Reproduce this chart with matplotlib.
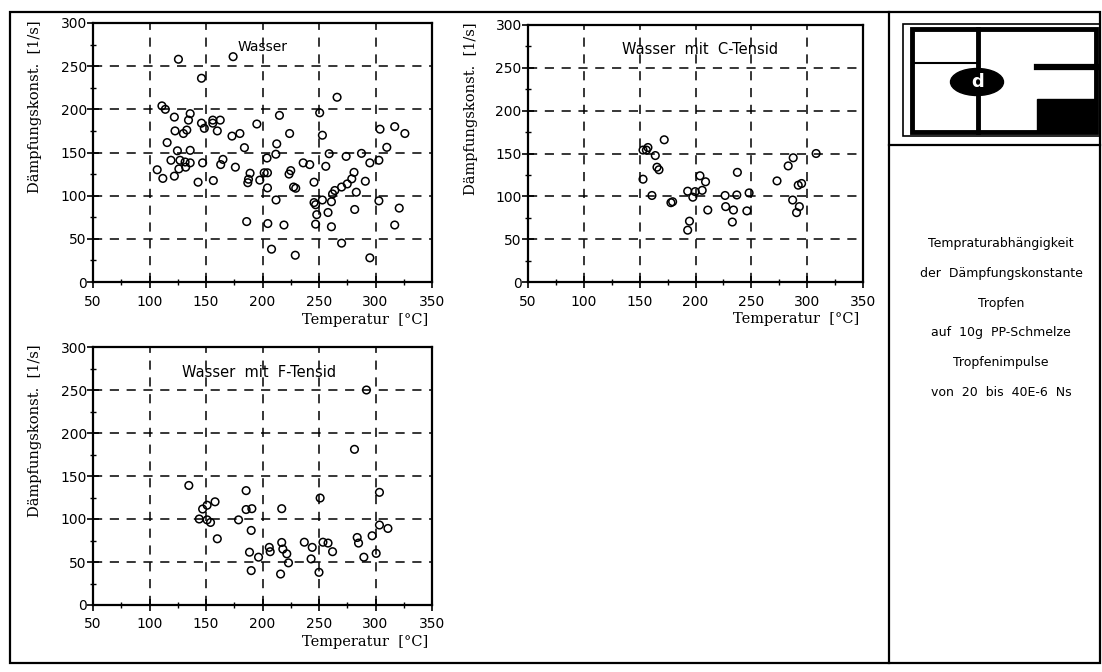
import numpy as np
import matplotlib.pyplot as plt
from matplotlib.patches import Rectangle, Ellipse
from matplotlib.lines import Line2D
from matplotlib.ticker import MultipleLocator

# Messwerte: Temperatur [C] / Daempfungskonstante [1/s]
wasser_T = [125.6, 174, 146, 111, 114, 122, 136, 134.5, 122.6, 130, 133, 146, 148.5, 156, 156,
            162.6, 160, 173, 180, 195, 215, 224, 250.6, 253, 266, 304, 317, 326, 310, 115.6,
            124.7, 119, 127, 131.5, 136, 136, 126, 132, 122, 111.8, 106.8, 147, 143, 156.5, 165,
            163, 176, 184, 189, 187, 187.6, 197.6, 201.5, 204.4, 204, 204.4, 211.8, 212.6, 212,
            223.5, 225, 227.5, 229.4, 236, 241.8, 245.6, 245.6, 247, 248, 247, 253, 256, 259,
            258, 261, 261, 262, 264, 270, 275, 279, 281, 274, 283, 281.6, 287.6, 291, 295, 303,
            303, 321, 317, 270, 295, 229, 208, 204.7, 219, 186]
wasser_D = [258, 261, 236, 204, 200, 191, 195, 187.5, 175, 172, 176, 184, 178, 187.5, 184,
            187.5, 175, 169, 172, 183, 193, 172, 196, 170, 214, 177, 180, 172, 156, 161.5,
            152, 141, 141, 139, 138, 152.5, 131, 133, 122.6, 120, 130, 138, 115.6, 117.5, 142,
            136, 133, 155.6, 126, 115, 119, 118, 126.5, 126.5, 143.6, 109, 148, 160, 95,
            125, 129, 110, 108.6, 138, 136, 115.6, 92, 89.5, 78, 67, 95, 134, 148.6,
            80.5, 64, 93, 102, 106, 110, 113.6, 119.5, 127, 145.5, 104, 84, 149, 116.7, 138, 141,
            94, 85.6, 66, 45, 28, 31, 38, 67.7, 66, 70]

c_tensid_T = [153, 157.4, 156, 164, 172, 165.5, 167.3, 153, 161, 178, 179.5, 193, 197.6, 199.7,
              204, 206, 209, 211, 194.6, 193, 226.5, 227, 234, 233, 237, 237.5, 248, 246, 273,
              283, 287.5, 292, 295, 287, 293, 290.5, 308]
c_tensid_D = [154, 157, 154, 147.6, 166, 134, 131, 120, 101, 92.6, 93.7, 106, 99, 105.5,
              124, 107, 117, 84, 71, 60.5, 101, 88, 84, 70, 101.6, 128, 104, 83, 118,
              135.5, 145, 113, 115, 95.7, 88, 81, 150]

f_tensid_T = [134.8, 292, 281.4, 303.5, 251, 185.5, 144, 147, 151, 158, 151, 154, 160, 178.8,
              185.5, 190.6, 190, 188.5, 196.5, 190, 206, 206.8, 217, 217, 218, 221.5, 223, 216,
              237, 244, 243, 250, 253.5, 258, 262, 283.8, 285, 289.7, 297, 300.6, 303.5, 311]
f_tensid_D = [139, 250, 181, 131, 124.4, 133, 100, 111.6, 116, 120, 99, 96, 77, 99,
              111, 112, 86.7, 61.4, 55.6, 40, 67, 62, 112, 72.7, 65, 59.5, 49, 36,
              73, 67, 53.6, 38, 73, 72, 62, 78.5, 72, 55.6, 80.5, 60, 93, 89]

side_text = ["Tempraturabhängigkeit", "der  Dämpfungskonstante", "Tropfen",
             "auf  10g  PP-Schmelze", "Tropfenimpulse", "von  20  bis  40E-6  Ns"]

W, H = 1102, 672
fig = plt.figure(figsize=(W / 100, H / 100), dpi=100)


def fx(px):
    return px / W


def fy(py):
    return 1 - py / H


def scatter_panel(box, T, D, title, tpos, tsize):
    ax = fig.add_axes(box)
    ax.scatter(T, D, s=30, facecolors='none', edgecolors='black', linewidths=1.1, zorder=3)
    ax.set_xlim(50, 350)
    ax.set_ylim(0, 300)
    ax.xaxis.set_major_locator(MultipleLocator(50))
    ax.yaxis.set_major_locator(MultipleLocator(50))
    ax.xaxis.set_minor_locator(MultipleLocator(25))
    ax.yaxis.set_minor_locator(MultipleLocator(25))
    ax.tick_params(which='major', direction='inout', length=8, width=1.2, labelsize=10)
    ax.tick_params(which='minor', direction='inout', length=5, width=1)
    ax.tick_params(axis='x', which='major', pad=5)
    ax.tick_params(axis='y', which='major', pad=0.5)
    ax.grid(True, which='major', color='black', linestyle=(0, (6, 5)), linewidth=1.1)
    for sp in ax.spines.values():
        sp.set_linewidth(1.6)
    ax.set_xlabel("Temperatur  [°C]", family='DejaVu Serif', fontsize=10.5)
    ax.xaxis.set_label_coords(0.99, -0.118)
    ax.xaxis.label.set_ha('right')
    ax.xaxis.label.set_va('top')
    ax.set_ylabel("Dämpfungskonst.  [1/s]", family='DejaVu Serif', fontsize=10.5)
    ax.yaxis.set_label_coords(-0.15, 1.01)
    ax.yaxis.label.set_ha('right')
    ax.text(tpos[0], tpos[1], title, transform=ax.transAxes, ha='center', va='center',
            fontsize=tsize, zorder=4)
    return ax


scatter_panel([fx(93), fy(282), fx(432) - fx(93), fy(23) - fy(282)],
              wasser_T, wasser_D, "Wasser", (0.499, 0.907), 10)
scatter_panel([fx(528), fy(282), fx(863) - fx(528), fy(25) - fy(282)],
              c_tensid_T, c_tensid_D, "Wasser  mit  C-Tensid", (0.513, 0.903), 10.5)
scatter_panel([fx(93), fy(605), fx(432) - fx(93), fy(347) - fy(605)],
              f_tensid_T, f_tensid_D, "Wasser  mit  F-Tensid", (0.49, 0.9), 10.5)

# Rahmen und Schriftfeld
fig.add_artist(Rectangle((fx(10), fy(663)), fx(1100) - fx(10), fy(12) - fy(663),
                         transform=fig.transFigure, fill=False, lw=1.6, ec='black'))
fig.add_artist(Line2D([fx(889), fx(889)], [fy(12), fy(663)], transform=fig.transFigure,
                      color='black', lw=1.6))
fig.add_artist(Line2D([fx(889), fx(1100)], [fy(145), fy(145)], transform=fig.transFigure,
                      color='black', lw=1.6))

# Logo
fig.add_artist(Rectangle((fx(903), fy(136)), fx(1100) - fx(903), fy(24) - fy(136),
                         transform=fig.transFigure, fill=False, lw=1.2, ec='black'))
fig.add_artist(Rectangle((fx(912), fy(132)), fx(1096) - fx(912), fy(29) - fy(132),
                         transform=fig.transFigure, fill=False, lw=3.5, ec='black'))
fig.add_artist(Line2D([fx(978), fx(978)], [fy(29), fy(132)], transform=fig.transFigure,
                      color='black', lw=3.5))
fig.add_artist(Line2D([fx(912), fx(978)], [fy(63), fy(63)], transform=fig.transFigure,
                      color='black', lw=1.5))
fig.add_artist(Line2D([fx(1037), fx(1096)], [fy(67), fy(67)], transform=fig.transFigure,
                      color='black', lw=4.5))
fig.add_artist(Rectangle((fx(1037), fy(132)), fx(1096) - fx(1037), fy(99) - fy(132),
                         transform=fig.transFigure, color='black'))
fig.add_artist(Ellipse((fx(977), fy(82)), fx(53), 27 / H, transform=fig.transFigure,
                       color='black'))
fig.text(fx(978), fy(82), "d", color='white', fontsize=13, fontweight='bold',
         ha='center', va='center')

for i, line in enumerate(side_text):
    fig.text(fx(1001), fy(244 + i * 29.6), line, fontsize=9, ha='center', va='center')

fig.savefig('out.png', dpi=100)
